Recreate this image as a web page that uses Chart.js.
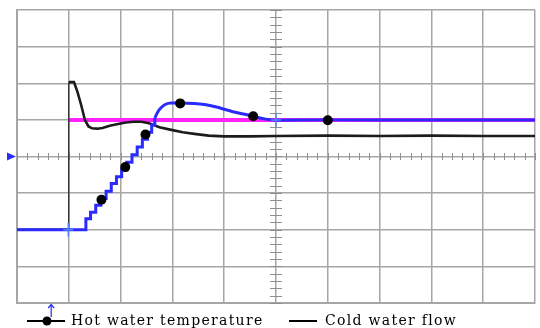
<!DOCTYPE html>
<html>
<head>
<meta charset="utf-8">
<script src="https://cdn.jsdelivr.net/npm/chart.js@4/dist/chart.umd.min.js"></script>
<style>
  html, body { margin: 0; padding: 0; background: #fff; }
  canvas { display: block; }
</style>
</head>
<body>
<canvas id="chart" width="540" height="328"></canvas>
<script>
// values in scope divisions (x: 0..10, y: -4..4)
// hot water temperature: quantised rise, then smooth overshoot and settle
const hotStepTimes = [0, 1.33, 1.42, 1.52, 1.62, 1.72, 1.82, 1.92, 2.02, 2.12, 2.22, 2.32, 2.42, 2.52, 2.60, 2.66];
const hotStepValues = [-2, -1.70, -1.52, -1.33, -1.15, -0.95, -0.74, -0.55, -0.36, -0.16, 0.05, 0.26, 0.47, 0.66, 0.86, 1.05];
const hotSettleTimes = [2.66, 2.72, 2.78, 2.86, 2.98, 3.15, 3.42, 3.62, 3.85, 4.0, 4.15, 4.37, 4.56, 4.80, 5.0, 6, 7, 8, 9, 10];
const hotSettleValues = [1.05, 1.22, 1.33, 1.42, 1.46, 1.46, 1.45, 1.42, 1.35, 1.29, 1.23, 1.16, 1.10, 1.02, 0.99, 1.0, 1.0, 1.0, 1.0, 1.0];

const hotMarkerTimes = [1.63, 2.09, 2.48, 3.15, 4.56, 6.0];
const hotMarkerValues = [-1.18, -0.29, 0.60, 1.45, 1.10, 0.99];

const coldTimes = [0, 1.0, 1.0, 1.1, 1.17, 1.24, 1.31, 1.38, 1.45, 1.55, 1.65, 1.79, 1.95, 2.1, 2.25, 2.4,
  2.55, 2.75, 3.0, 3.2, 3.46, 3.7, 4.0, 4.5, 5, 6, 7, 8, 9, 10];
const coldValues = [-2, -2, 2.03, 2.03, 1.75, 1.40, 1.0, 0.82, 0.77, 0.76, 0.78, 0.84, 0.89, 0.93, 0.95, 0.95,
  0.91, 0.80, 0.72, 0.66, 0.61, 0.57, 0.55, 0.55, 0.56, 0.57, 0.56, 0.57, 0.56, 0.56];

const setTimes = [1, 10];
const setValues = [1, 1];

const legendLabels = ['Hot water temperature', 'Cold water flow'];

const GRID = '#a6a6a6';
const BLUE = '#2b2bff';
const MAGENTA = '#ff22ff';
const BLACK = '#1c1c1c';

const toPoints = (xs, ys) => xs.map((x, i) => ({ x, y: ys[i] }));

// center crosshair ticks, trigger markers and the legend under the plot
const scopeDecor = {
  id: 'scopeDecor',
  beforeDatasetsDraw(chart) {
    const { ctx, scales: { x, y } } = chart;
    const cx = x.getPixelForValue(5);
    const cy = y.getPixelForValue(0);
    ctx.save();
    ctx.strokeStyle = '#8f8f8f';
    ctx.lineWidth = 1;
    ctx.beginPath();
    for (let v = 0; v <= 10.001; v += 0.2) {
      const px = Math.round(x.getPixelForValue(v)) + 0.5;
      ctx.moveTo(px, cy - 3.5);
      ctx.lineTo(px, cy + 3.5);
    }
    for (let v = -4; v <= 4.001; v += 0.2) {
      const py = Math.round(y.getPixelForValue(v)) + 0.5;
      ctx.moveTo(cx - 6, py);
      ctx.lineTo(cx + 6, py);
    }
    ctx.stroke();
    ctx.restore();
  },
  afterDraw(chart) {
    const { ctx, chartArea: a, scales: { x, y } } = chart;
    ctx.save();

    // ground level triangle on the left
    const gy = y.getPixelForValue(0);
    ctx.fillStyle = BLUE;
    ctx.beginPath();
    ctx.moveTo(a.left - 10, gy - 4);
    ctx.lineTo(a.left - 1, gy);
    ctx.lineTo(a.left - 10, gy + 4);
    ctx.closePath();
    ctx.fill();

    // trigger arrow below the plot
    const ax = x.getPixelForValue(0.66);
    ctx.strokeStyle = BLUE;
    ctx.lineWidth = 1.2;
    ctx.beginPath();
    ctx.moveTo(ax, a.bottom + 14);
    ctx.lineTo(ax, a.bottom + 2);
    ctx.moveTo(ax - 3, a.bottom + 5);
    ctx.lineTo(ax, a.bottom + 1.5);
    ctx.lineTo(ax + 3, a.bottom + 5);
    ctx.stroke();

    // cursor crosses
    ctx.strokeStyle = '#4d86ff';
    ctx.lineWidth = 1.5;
    [[0.99, -2], [5, 1]].forEach(([vx, vy]) => {
      const px = x.getPixelForValue(vx);
      const py = y.getPixelForValue(vy);
      ctx.beginPath();
      ctx.moveTo(px, py - 7);
      ctx.lineTo(px, py + 7);
      ctx.moveTo(px - 5, py);
      ctx.lineTo(px + 5, py);
      ctx.stroke();
    });

    // legend
    const ly = 321;
    ctx.strokeStyle = '#000';
    ctx.fillStyle = '#000';
    ctx.lineWidth = 2;
    ctx.beginPath();
    ctx.moveTo(27, ly);
    ctx.lineTo(65, ly);
    ctx.moveTo(289, ly);
    ctx.lineTo(317, ly);
    ctx.stroke();
    ctx.beginPath();
    ctx.arc(47, ly, 4.5, 0, Math.PI * 2);
    ctx.fill();

    ctx.font = '14px "DejaVu Serif"';
    ctx.letterSpacing = '1.3px';
    ctx.textBaseline = 'middle';
    ctx.fillText(legendLabels[0], 71, ly);
    ctx.fillText(legendLabels[1], 325, ly);
    ctx.restore();
  },
};

const axisOpts = (min, max) => ({
  type: 'linear',
  min,
  max,
  ticks: { display: false, stepSize: 1 },
  grid: { color: GRID, lineWidth: 1.5, drawTicks: false },
  border: { display: true, color: GRID, width: 2 },
});

new Chart(document.getElementById('chart'), {
  type: 'line',
  data: {
    datasets: [
      {
        label: 'hotMarkers',
        data: toPoints(hotMarkerTimes, hotMarkerValues),
        showLine: false,
        pointRadius: 5,
        pointBackgroundColor: '#000',
        pointBorderWidth: 0,
        order: 0,
      },
      {
        label: legendLabels[0],
        data: toPoints(hotStepTimes, hotStepValues),
        borderColor: BLUE,
        borderWidth: 3,
        stepped: true,
        pointRadius: 0,
        order: 1,
      },
      {
        label: 'hotSettle',
        data: toPoints(hotSettleTimes, hotSettleValues),
        borderColor: BLUE,
        borderWidth: 3,
        cubicInterpolationMode: 'monotone',
        pointRadius: 0,
        order: 1,
      },
      {
        label: legendLabels[1],
        data: toPoints(coldTimes, coldValues),
        borderColor: BLACK,
        borderWidth: 2.6,
        pointRadius: 0,
        tension: 0,
        segment: {
          borderWidth: (c) => (c.p0.parsed.x === c.p1.parsed.x ? 1.2 : 2.6),
        },
        order: 2,
      },
      {
        label: 'setpoint',
        data: toPoints(setTimes, setValues),
        borderColor: MAGENTA,
        borderWidth: 4,
        pointRadius: 0,
        order: 3,
      },
    ],
  },
  options: {
    responsive: false,
    animation: false,
    devicePixelRatio: 1,
    layout: { padding: { left: 17, right: 2, top: 10, bottom: 25 } },
    plugins: {
      legend: { display: false },
      tooltip: { enabled: false },
    },
    scales: {
      x: axisOpts(0, 10),
      y: axisOpts(-4, 4),
    },
  },
  plugins: [scopeDecor],
});
</script>
</body>
</html>
